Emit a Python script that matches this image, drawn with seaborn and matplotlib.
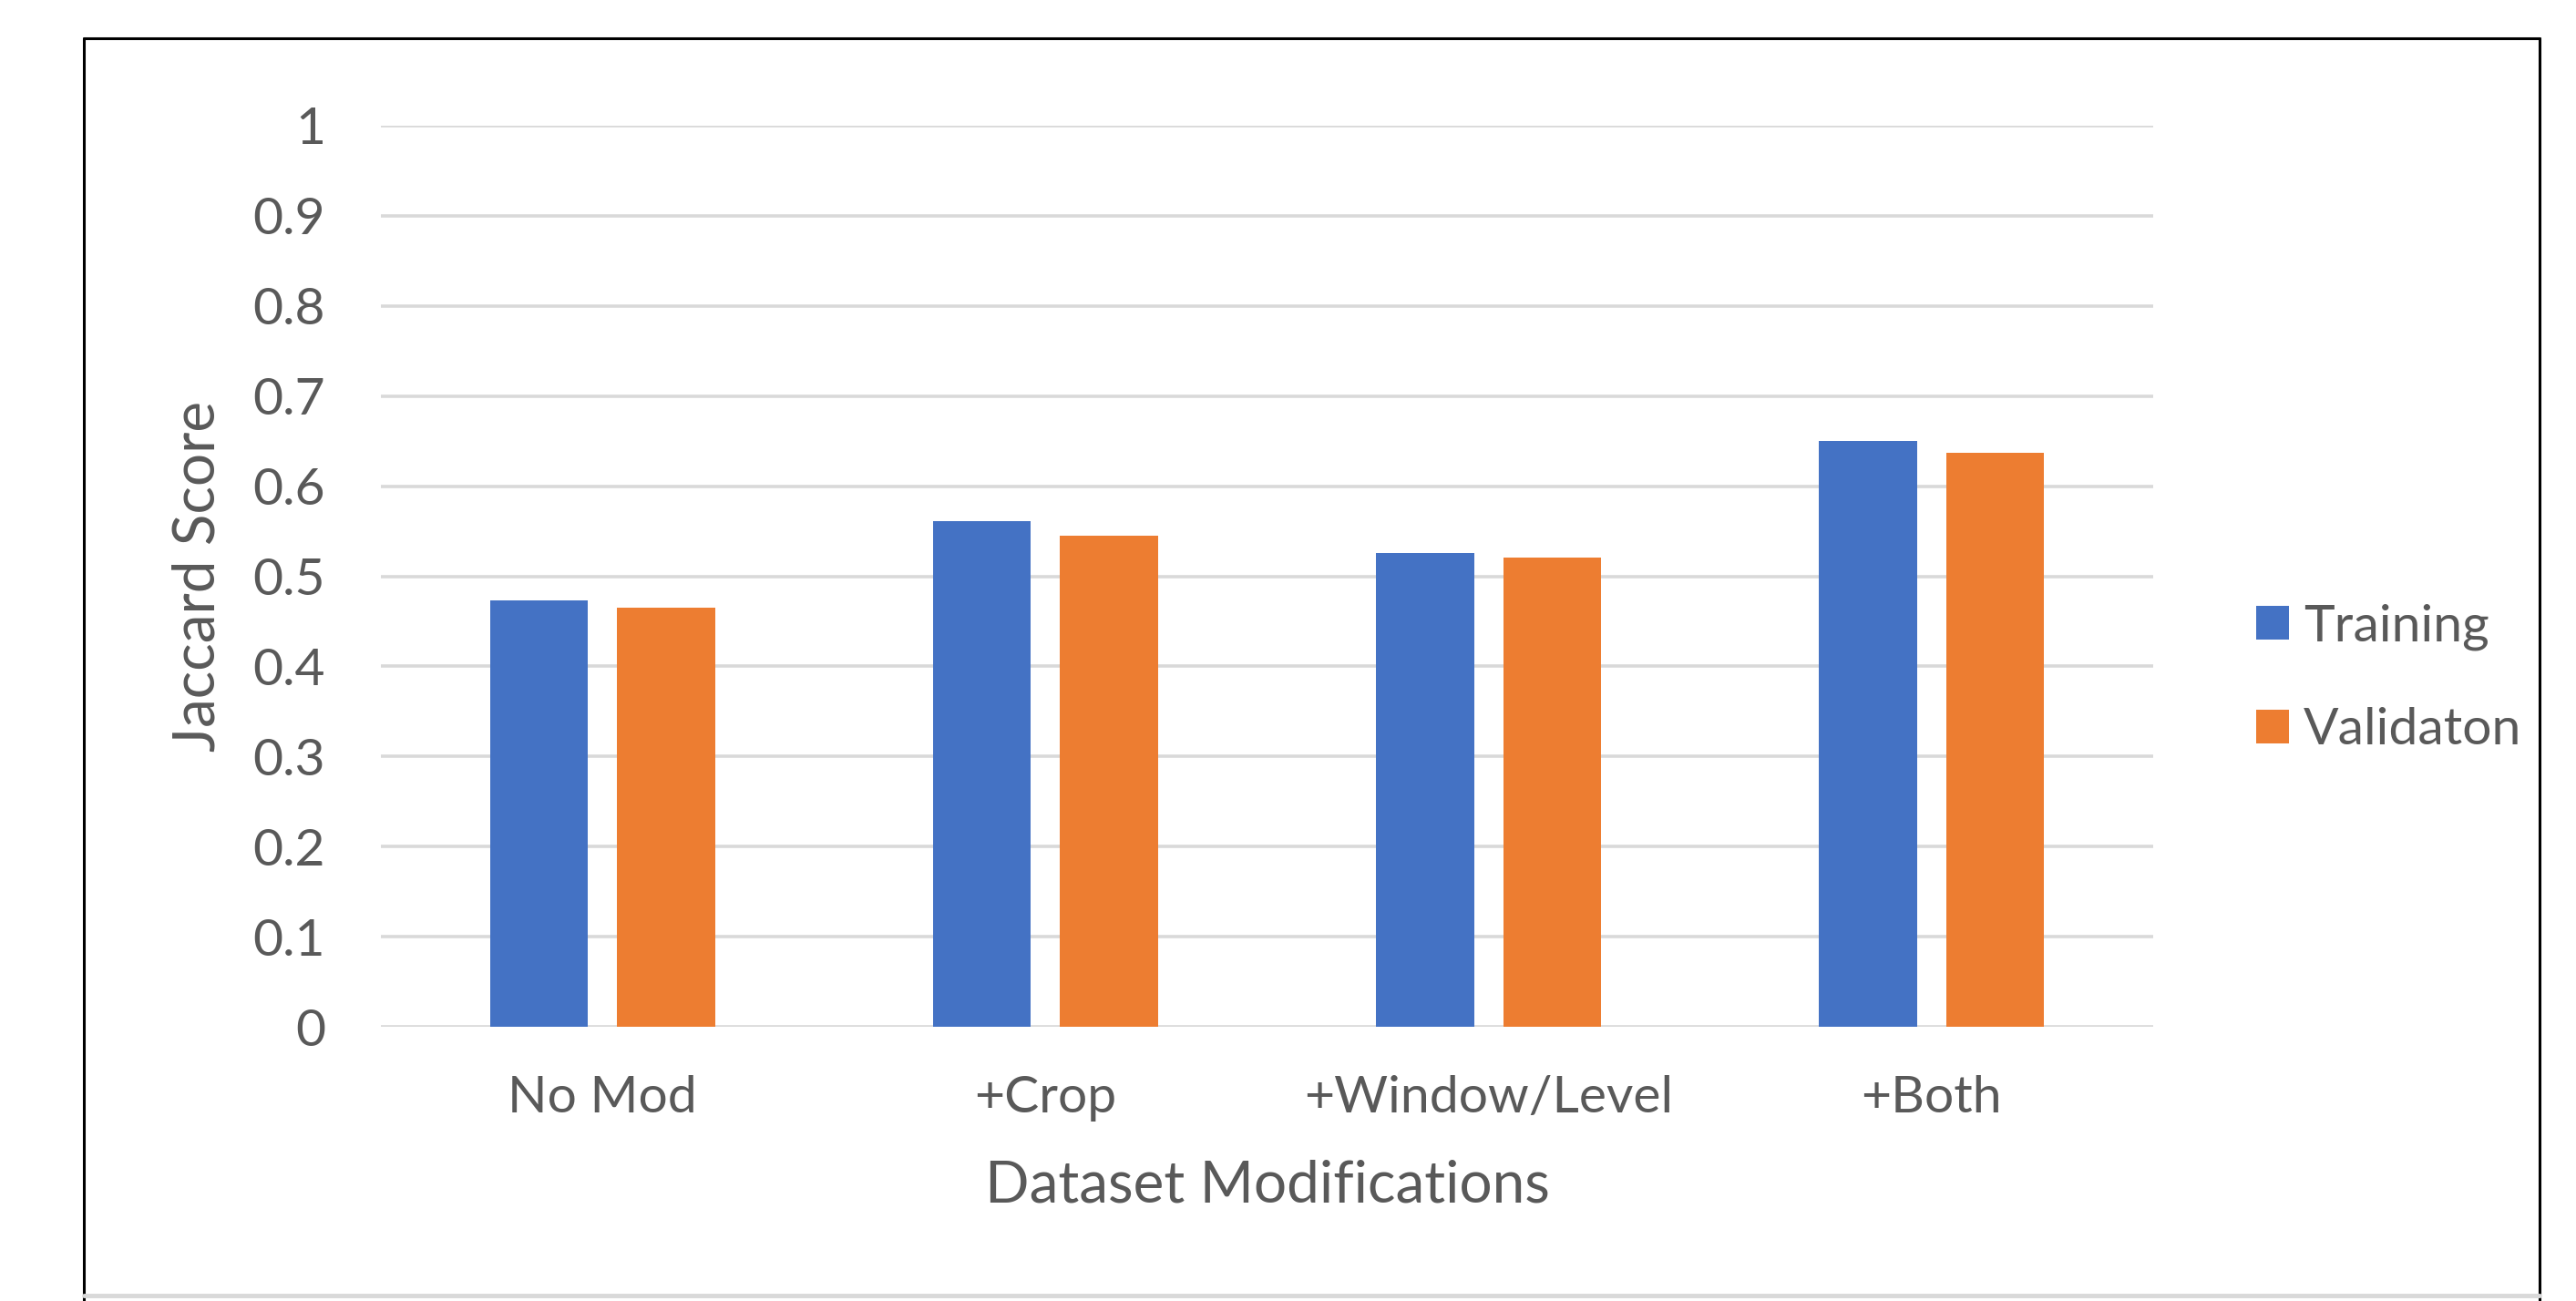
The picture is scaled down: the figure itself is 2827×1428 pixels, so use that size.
import matplotlib
matplotlib.use("Agg")
import matplotlib.pyplot as plt
from matplotlib.lines import Line2D
from matplotlib.patches import Patch
import seaborn as sns
import pandas as pd

categories = ["No Mod", "+Crop", "+Window/Level", "+Both"]
training = [0.473, 0.561, 0.526, 0.650]
validation = [0.465, 0.545, 0.521, 0.637]
series_names = ["Training", "Validaton"]
y_ticks = [0, 0.1, 0.2, 0.3, 0.4, 0.5, 0.6, 0.7, 0.8, 0.9, 1]
y_tick_labels = ["0", "0.1", "0.2", "0.3", "0.4", "0.5", "0.6", "0.7", "0.8", "0.9", "1"]

df = pd.DataFrame({
    "Modification": categories * 2,
    "Score": training + validation,
    "Set": [series_names[0]] * len(categories) + [series_names[1]] * len(categories),
})

sns.set_theme(style="white")
plt.rcParams["font.family"] = ["Lato", "DejaVu Sans"]

W, H = 2827, 1428
fig = plt.figure(figsize=(W / 100, H / 100), dpi=100)
fig.patch.set_facecolor("white")
ax = fig.add_axes([418 / W, 1 - 1127 / H, (2363 - 418) / W, (1127 - 138) / H])

text_grey = "#595959"
colors = {"Training": "#4472C4", "Validaton": "#ED7D31"}

sns.barplot(data=df, x="Modification", y="Score", hue="Set", palette=colors,
            saturation=1, width=0.574, gap=0.23, ax=ax, legend=False, zorder=3,
            edgecolor="none", linewidth=0)

ax.set_ylim(0, 1)
ax.set_xlim(-0.5, len(categories) - 0.5)
ax.set_yticks(y_ticks)
ax.set_yticklabels(y_tick_labels)
ax.yaxis.grid(True, color="#D9D9D9", linewidth=2.6, zorder=0)
ax.set_axisbelow(True)
for s in ax.spines.values():
    s.set_visible(False)
ax.tick_params(axis="y", length=0, pad=44, labelsize=41, labelcolor=text_grey)
ax.tick_params(axis="x", length=0, pad=38, labelsize=41, labelcolor=text_grey)

ax.set_xlabel("Dataset Modifications", fontsize=46, color=text_grey, labelpad=30)
ax.set_ylabel("Jaccard Score", fontsize=46, color=text_grey, labelpad=22)

handles = [Patch(facecolor=colors[n], edgecolor="none") for n in series_names]
fig.legend(handles, series_names, loc="center left",
           bbox_to_anchor=(2476 / W, 1 - 745 / H), bbox_transform=fig.transFigure,
           frameon=False, fontsize=41, labelcolor=text_grey,
           handlelength=0.63, handleheight=0.63, handletextpad=0.28,
           labelspacing=1.09, borderpad=0, borderaxespad=0)

# chart frame: black on three sides, light rule along the bottom
x0, x1, y0 = 92 / W, 2787 / W, 1 - 42 / H
fig.add_artist(Line2D([x0, x0], [0, y0], color="black", linewidth=2.2, transform=fig.transFigure))
fig.add_artist(Line2D([x1, x1], [0, y0], color="black", linewidth=2.2, transform=fig.transFigure))
fig.add_artist(Line2D([x0, x1], [y0, y0], color="black", linewidth=2.2, transform=fig.transFigure))
fig.add_artist(Line2D([x0, x1], [1 - 1422 / H, 1 - 1422 / H], color="#D9D9D9",
                      linewidth=3.5, transform=fig.transFigure))

fig.savefig("out.png", dpi=100, facecolor="white")
